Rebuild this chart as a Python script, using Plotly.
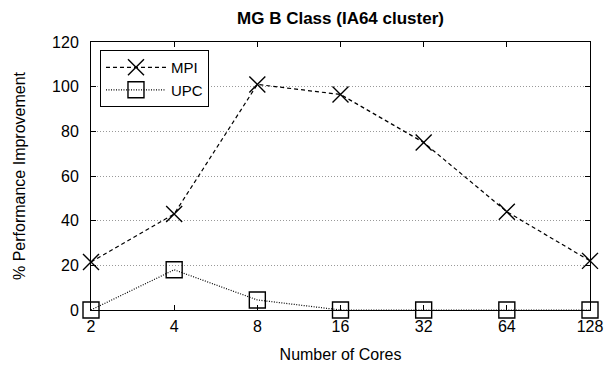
import plotly.graph_objects as go

cores = ["2", "4", "8", "16", "32", "64", "128"]
mpi = [21.5, 43, 101, 96.5, 75, 44, 22]
upc = [0, 18, 4.5, 0, 0, 0, 0]
y_ticks = [0, 20, 40, 60, 80, 100, 120]

fig = go.Figure()
fig.add_trace(go.Scatter(
    x=cores, y=mpi, name="MPI", mode="lines+markers",
    line=dict(color="black", width=1.2, dash="4px,3px"),
    marker=dict(symbol="x-thin", size=16, line=dict(color="black", width=1.4)),
    cliponaxis=False,
))
fig.add_trace(go.Scatter(
    x=cores, y=upc, name="UPC", mode="lines+markers",
    line=dict(color="black", width=1.2, dash="1px,1.5px"),
    marker=dict(symbol="square-open", size=16, color="black", line=dict(color="black", width=1.4)),
    cliponaxis=False,
))

font = "Liberation Sans, Arial, Helvetica, sans-serif"
fig.update_layout(
    width=612, height=365,
    margin=dict(l=91, r=22, t=42, b=55),
    paper_bgcolor="white", plot_bgcolor="white",
    font=dict(family=font, size=16, color="black"),
    title=dict(text="<b>MG B Class (IA64 cluster)</b>", x=0.5, xref="paper",
               y=0.95, yanchor="middle", font=dict(size=17, family=font)),
    showlegend=True,
    legend=dict(x=0.018, y=0.97, xanchor="left", yanchor="top",
                bordercolor="black", borderwidth=1, bgcolor="white",
                font=dict(size=15), tracegroupgap=0, itemwidth=60),
    xaxis=dict(
        type="category", range=[0, 6], showgrid=False, automargin=False,
        showline=True, linecolor="black", linewidth=1, mirror="ticks",
        ticks="inside", ticklen=5, tickcolor="black",
        title=dict(text="Number of Cores", font=dict(size=16), standoff=14),
        tickfont=dict(size=16), zeroline=False, ticklabelstandoff=2,
    ),
    yaxis=dict(
        range=[0, 120], tickvals=y_ticks, showgrid=True, automargin=False,
        gridcolor="#999", griddash="1px,2px", gridwidth=1,
        showline=True, linecolor="black", linewidth=1, mirror="ticks",
        ticks="inside", ticklen=5, tickcolor="black",
        title=dict(text="% Performance Improvement", font=dict(size=16), standoff=22),
        tickfont=dict(size=16), zeroline=False, ticklabelstandoff=8,
    ),
)
fig.write_html("out.html", config={"displayModeBar": False},
               post_script="document.body.style.margin='0';")
